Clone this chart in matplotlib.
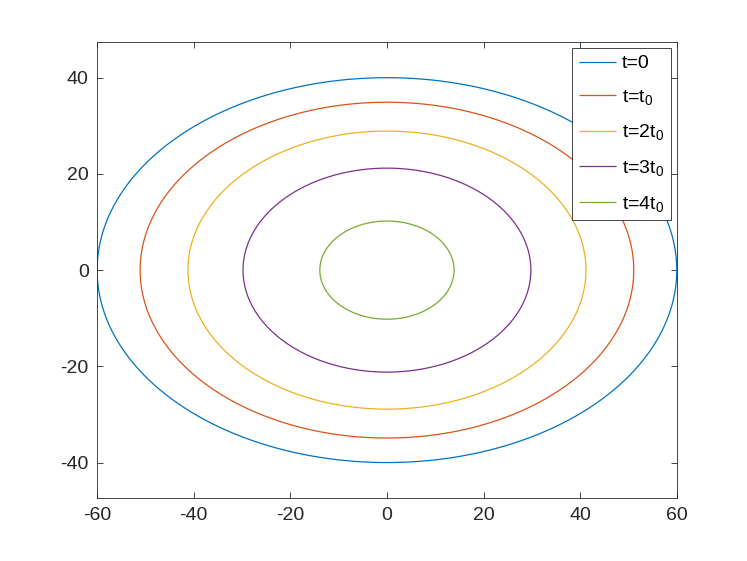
import matplotlib

matplotlib.use("Agg")
import matplotlib.pyplot as plt
import numpy as np

plt.rcParams["font.family"] = ["Liberation Sans", "DejaVu Sans"]
plt.rcParams["mathtext.fontset"] = "custom"
plt.rcParams["mathtext.rm"] = "Liberation Sans"
plt.rcParams["mathtext.it"] = "Liberation Sans"
plt.rcParams["axes.unicode_minus"] = False

# semi-axes
LABELS = ["t=0", "t=t$_0$", "t=2t$_0$", "t=3t$_0$", "t=4t$_0$"]
SEMI_X = [60, 51.1, 41.2, 29.8, 13.9]
SEMI_Y = [40, 34.9, 28.9, 21.2, 10.2]
COLORS = ["#0072BD", "#D95319", "#EDB120", "#7E2F8E", "#77AC30"]
XTICKS = [-60, -40, -20, 0, 20, 40, 60]
YTICKS = [-40, -20, 0, 20, 40]

fig = plt.figure(figsize=(7.47, 5.61), dpi=100, facecolor="white")
ax = fig.add_axes([0.130, 0.112, 0.776, 0.813])

th = np.linspace(0, 2 * np.pi, 400)
for lab, a, b, c in zip(LABELS, SEMI_X, SEMI_Y, COLORS):
    ax.plot(a * np.cos(th), b * np.sin(th), color=c, lw=0.9, label=lab,
            solid_capstyle="butt")

ax.set_xlim(-60, 60)
ax.set_ylim(-47.4, 47.4)
ax.set_xticks(XTICKS)
ax.set_yticks(YTICKS)
ax.tick_params(direction="in", length=4, width=0.6, labelsize=14,
               colors="#262626", top=True, right=True, pad=6)
for s in ax.spines.values():
    s.set_linewidth(0.6)
    s.set_color("#262626")

leg = ax.legend(loc="upper right", fontsize=14, handlelength=1.9,
                fancybox=False, framealpha=1, edgecolor="#262626",
                borderaxespad=0.3, labelspacing=0.8, handletextpad=0.3,
                borderpad=0.35)
leg.get_frame().set_linewidth(0.6)
for ln in leg.get_lines():
    ln.set_linewidth(0.9)

fig.savefig("out.png", dpi=100, facecolor="white")
